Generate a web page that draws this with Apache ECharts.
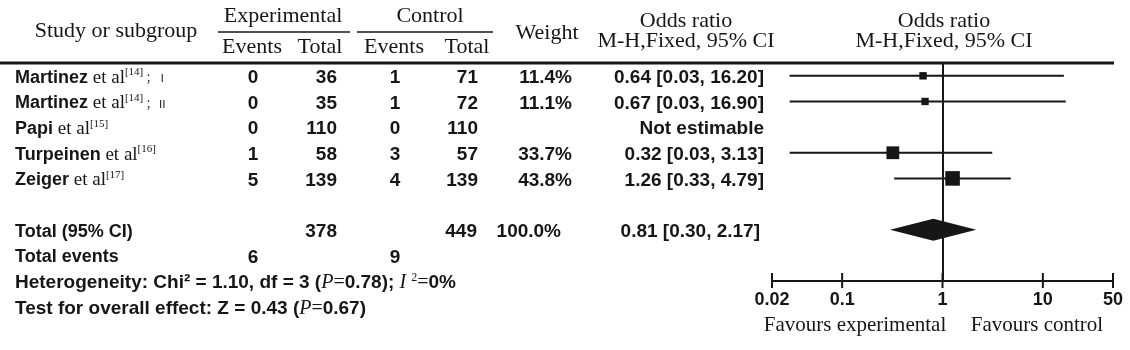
<!DOCTYPE html>
<html lang="en">
<head>
<meta charset="UTF-8">
<title>Forest plot</title>
<script src="https://cdn.jsdelivr.net/npm/echarts@6/dist/echarts.min.js"></script>
<style>body{margin:0;background:#fff;}</style>
</head>
<body>
<div id="myChart" style="width:1130px;height:350px;"></div>
<script>
// study rows
var studyNames = ['Martinez', 'Martinez', 'Papi', 'Turpeinen', 'Zeiger'];
var studyRefs = ['[14]', '[14]', '[15]', '[16]', '[17]'];
var studyParts = ['；Ⅰ', '；Ⅱ', '', '', ''];
var expEvents = [0, 0, 0, 1, 5];
var expTotal = [36, 35, 110, 58, 139];
var ctrlEvents = [1, 1, 0, 3, 4];
var ctrlTotal = [71, 72, 110, 57, 139];
var weightPct = [11.4, 11.1, null, 33.7, 43.8];
var oddsRatio = [0.64, 0.67, null, 0.32, 1.26];
var ciLow = [0.03, 0.03, null, 0.03, 0.33];
var ciHigh = [16.20, 16.90, null, 3.13, 4.79];

// pooled result
var totalN = [378, 449];
var totalEvents = [6, 9];
var pooledOR = [0.81, 0.30, 2.17];   // estimate, low, high
var pooledWeight = 100.0;
var heterogeneity = [1.10, 3, 0.78, 0]; // chi2, df, P, I2
var overallEffect = [0.43, 0.67];      // Z, P

var xTicks = [0.02, 0.1, 1, 10, 50];

var INK = '#161616';
var SERIF = 'Liberation Serif';
var SANS = 'Liberation Sans';
var TOTAL_ROW = 6;
var Y_MIN = -0.5, Y_MAX = 8;

var myChart = echarts.init(document.getElementById('myChart'));

var studyData = [];
for (var i = 0; i < oddsRatio.length; i++) {
    if (oddsRatio[i] == null) continue;
    studyData.push([oddsRatio[i], ciLow[i], ciHigh[i], i, weightPct[i]]);
}

function renderStudy(params, api) {
    var row = api.value(3);
    var mid = api.coord([api.value(0), row]);
    var lo = api.coord([api.value(1), row]);
    var hi = api.coord([api.value(2), row]);
    var s = 2.2 * Math.sqrt(api.value(4));
    return {
        type: 'group',
        children: [
            {type: 'line', shape: {x1: lo[0], y1: lo[1], x2: hi[0], y2: hi[1]}, style: {stroke: INK, lineWidth: 2}},
            {type: 'rect', shape: {x: mid[0] - s / 2, y: mid[1] - s / 2, width: s, height: s}, style: {fill: INK}}
        ]
    };
}

function renderDiamond(params, api) {
    var row = api.value(3);
    var mid = api.coord([api.value(0), row]);
    var lo = api.coord([api.value(1), row]);
    var hi = api.coord([api.value(2), row]);
    var h = 11;
    return {
        type: 'polygon',
        shape: {points: [[lo[0], lo[1]], [mid[0], mid[1] - h], [hi[0], hi[1]], [mid[0], mid[1] + h]]},
        style: {fill: INK}
    };
}

// ticks that cross the axis line
function renderTick(params, api) {
    var p = api.coord([api.value(0), api.value(1)]);
    return {type: 'line', shape: {x1: p[0], y1: p[1] - 8, x2: p[0], y2: p[1] + 7},
        style: {stroke: INK, lineWidth: 2}};
}

myChart.setOption({
    animation: false,
    backgroundColor: '#fff',
    grid: {left: 772, right: 17, top: 63, bottom: 69},
    xAxis: {
        type: 'log',
        logBase: 10,
        min: xTicks[0],
        max: xTicks[xTicks.length - 1],
        splitLine: {show: false},
        minorTick: {show: false},
        axisLine: {onZero: false, lineStyle: {color: INK, width: 2}},
        axisTick: {show: false},
        axisLabel: {
            show: true, margin: 10, color: INK,
            fontFamily: SANS, fontWeight: 'bold', fontSize: 18,
            showMinLabel: true, showMaxLabel: true,
            formatter: function (v) { return String(+(+v).toPrecision(3)); }
        }
    },
    yAxis: {type: 'value', inverse: true, min: Y_MIN, max: Y_MAX, show: false},
    series: [
        {
            type: 'custom',
            renderItem: renderStudy,
            encode: {x: [0, 1, 2], y: 3},
            data: studyData,
            silent: true
        },
        {
            type: 'custom',
            renderItem: renderDiamond,
            encode: {x: [0, 1, 2], y: 3},
            data: [[pooledOR[0], pooledOR[1], pooledOR[2], TOTAL_ROW]],
            silent: true,
            markLine: {
                silent: true,
                symbol: ['none', 'none'],
                label: {show: false},
                lineStyle: {color: INK, width: 2, type: 'solid'},
                data: [{xAxis: 1}]
            }
        },
        {
            type: 'custom',
            renderItem: renderTick,
            encode: {x: 0, y: 1},
            data: xTicks.map(function (v) { return [v, Y_MAX]; }),
            clip: false,
            silent: true
        }
    ]
});

// table text, rows placed through the y scale
function rowY(r) {
    return myChart.convertToPixel({yAxisIndex: 0}, r) + 2;
}

var graphics = [];
function addText(x, y, text, align, font, rich) {
    var st = {
        text: text,
        x: 0, y: 0,
        align: align,
        verticalAlign: 'middle',
        fill: INK,
        fontFamily: font.family || SANS,
        fontSize: font.size || 18,
        fontWeight: font.weight || 'normal'
    };
    if (rich) st.rich = rich;
    graphics.push({type: 'text', x: x, y: y, style: st, z: 10});
}
function addLine(x1, y1, x2, y2, w) {
    graphics.push({type: 'line', shape: {x1: x1, y1: y1, x2: x2, y2: y2},
        style: {stroke: INK, lineWidth: w}, z: 10});
}

var serifH = {family: SERIF, size: 22};
var bold = {family: SANS, size: 18, weight: 'bold'};
var boldNum = {family: SANS, size: 19, weight: 'bold'};

// header
addText(116, 31, 'Study or subgroup', 'center', serifH);
addText(283, 16, 'Experimental', 'center', serifH);
addText(430, 16, 'Control', 'center', serifH);
addLine(218, 32, 350, 32, 1.5);
addLine(357, 32, 493, 32, 1.5);
addText(252, 47, 'Events', 'center', serifH);
addText(320, 47, 'Total', 'center', serifH);
addText(394, 47, 'Events', 'center', serifH);
addText(467, 47, 'Total', 'center', serifH);
addText(547, 33, 'Weight', 'center', serifH);
addText(686, 21, 'Odds ratio', 'center', serifH);
addText(686, 41, 'M-H,Fixed, 95% CI', 'center', serifH);
addText(944, 21, 'Odds ratio', 'center', serifH);
addText(944, 41, 'M-H,Fixed, 95% CI', 'center', serifH);
addLine(0, 63, 1114, 63, 3);

var nameRich = {
    b: {fontFamily: SANS, fontWeight: 'bold', fontSize: 18, color: INK, lineHeight: 22},
    s: {fontFamily: SERIF, fontSize: 19, color: INK, lineHeight: 22},
    sup: {fontFamily: SERIF, fontSize: 11, color: INK, verticalAlign: 'top', lineHeight: 12},
    g: {fontFamily: 'Noto Sans CJK SC', fontSize: 11, color: '#777', lineHeight: 22}
};

function fmt2(v) { return v.toFixed(2); }

for (var r = 0; r < studyNames.length; r++) {
    var y = rowY(r);
    var label = '{b|' + studyNames[r] + '}{s| et al}{sup|' + studyRefs[r] + '}';
    if (studyParts[r]) label += '{g| ' + studyParts[r] + '}';
    addText(15, y, label, 'left', bold, nameRich);
    addText(253, y, String(expEvents[r]), 'center', boldNum);
    addText(337, y, String(expTotal[r]), 'right', boldNum);
    addText(395, y, String(ctrlEvents[r]), 'center', boldNum);
    addText(478, y, String(ctrlTotal[r]), 'right', boldNum);
    if (weightPct[r] != null) {
        addText(572, y, weightPct[r].toFixed(1) + '%', 'right', boldNum);
        addText(764, y, fmt2(oddsRatio[r]) + ' [' + fmt2(ciLow[r]) + ', ' + fmt2(ciHigh[r]) + ']', 'right', boldNum);
    } else {
        addText(764, y, 'Not estimable', 'right', boldNum);
    }
}

var yT = rowY(TOTAL_ROW);
addText(15, yT, 'Total (95% CI)', 'left', bold);
addText(337, yT, String(totalN[0]), 'right', boldNum);
addText(477, yT, String(totalN[1]), 'right', boldNum);
addText(561, yT, pooledWeight.toFixed(1) + '%', 'right', boldNum);
addText(760, yT, fmt2(pooledOR[0]) + ' [' + fmt2(pooledOR[1]) + ', ' + fmt2(pooledOR[2]) + ']', 'right', boldNum);

var yE = rowY(TOTAL_ROW + 1);
addText(15, yE, 'Total events', 'left', bold);
addText(253, yE, String(totalEvents[0]), 'center', boldNum);
addText(395, yE, String(totalEvents[1]), 'center', boldNum);

var statRich = {
    b: {fontFamily: SANS, fontWeight: 'bold', fontSize: 19, color: INK, lineHeight: 22},
    i: {fontFamily: SERIF, fontStyle: 'italic', fontSize: 20, color: INK, lineHeight: 22},
    e: {fontFamily: SERIF, fontSize: 20, color: INK, lineHeight: 22},
    sup: {fontFamily: SERIF, fontSize: 12, color: INK, verticalAlign: 'top', lineHeight: 14}
};
var yH = rowY(TOTAL_ROW + 2);
addText(15, yH,
    '{b|Heterogeneity: Chi² = ' + heterogeneity[0].toFixed(2) + ', df = ' + heterogeneity[1] + ' (}{i|P}{e|=}{b|' +
    heterogeneity[2].toFixed(2) + '); }{i|I }{sup|2}{e|=}{b|' + heterogeneity[3] + '%}',
    'left', bold, statRich);
var yZ = rowY(TOTAL_ROW + 3);
addText(15, yZ,
    '{b|Test for overall effect: Z = ' + overallEffect[0].toFixed(2) + ' (}{i|P}{e|=}{b|' + overallEffect[1].toFixed(2) + ')}',
    'left', bold, statRich);

// axis captions
var capFont = {family: SERIF, size: 21};
addText(855, 325, 'Favours experimental', 'center', capFont);
addText(1037, 325, 'Favours control', 'center', capFont);

myChart.setOption({graphic: {elements: graphics}});
</script>
</body>
</html>
